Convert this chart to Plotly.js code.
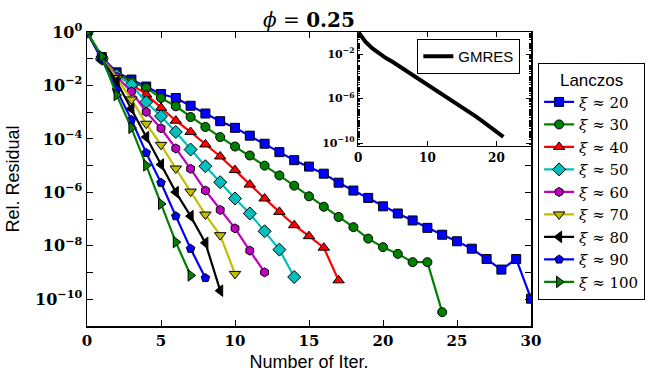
<!DOCTYPE html>
<html>
<head>
<meta charset="utf-8">
<script src="https://cdn.plot.ly/plotly-3.0.1.min.js"></script>
<style>html,body{margin:0;padding:0;background:#fff;}#chart{width:664px;height:382px;}</style>
</head>
<body>
<div id="chart"></div>
<script>
// ---------- data ----------
const iterations = [0,1,2,3,4,5,6,7,8,9,10,11,12,13,14,15,16,17,18,19,20,21,22,23,24,25,26,27,28,29,30];

const seriesLabels = ["<i>ξ</i> ≈ 20","<i>ξ</i> ≈ 30","<i>ξ</i> ≈ 40","<i>ξ</i> ≈ 50","<i>ξ</i> ≈ 60","<i>ξ</i> ≈ 70","<i>ξ</i> ≈ 80","<i>ξ</i> ≈ 90","<i>ξ</i> ≈ 100"];

const xi20 = [1, 1.15e-1, 3.1e-2, 1.66e-2, 9.1e-3, 4.8e-3, 3.4e-3, 1.74e-3, 8.9e-4, 4.6e-4, 2.6e-4, 1.32e-4, 6.6e-5, 3.2e-5, 1.6e-5, 9.2e-6, 5.0e-6, 2.3e-6, 1.17e-6, 6.2e-7, 3.0e-7, 1.62e-7, 8.9e-8, 4.7e-8, 2.6e-8, 1.48e-8, 7.8e-9, 3.2e-9, 1.29e-9, 3.2e-9, 1.05e-10];
const xi30 = [1, 1.07e-1, 2.8e-2, 1.41e-2, 8.1e-3, 3.4e-3, 1.66e-3, 6.6e-4, 2.8e-4, 1.17e-4, 5.2e-5, 2.4e-5, 1.0e-5, 4.3e-6, 1.78e-6, 7.1e-7, 2.9e-7, 1.2e-7, 5.0e-8, 1.86e-8, 8.9e-9, 5.0e-9, 2.45e-9, 2.45e-9, 3.3e-11];
const xi40 = [1, 1.07e-1, 2.5e-2, 1.12e-2, 4.6e-3, 1.45e-3, 4.8e-4, 1.82e-4, 6.2e-5, 2.2e-5, 6.8e-6, 1.95e-6, 5.9e-7, 1.86e-7, 5.9e-8, 2.3e-8, 8.5e-9, 5.1e-10];
const xi50 = [1, 1.0e-1, 2.4e-2, 1.05e-2, 2.4e-3, 7.1e-4, 1.82e-4, 4.0e-5, 9.5e-6, 2.4e-6, 5.9e-7, 1.62e-7, 3.5e-8, 7.2e-9, 6.8e-10];
const xi60 = [1, 1.0e-1, 2.1e-2, 6.0e-3, 1.02e-3, 2.5e-4, 4.4e-5, 7.6e-6, 1.17e-6, 2.2e-7, 4.5e-8, 6.6e-9, 1.02e-9];
const xi70 = [1, 1.0e-1, 1.9e-2, 3.0e-3, 3.7e-4, 6.0e-5, 7.8e-6, 1.07e-6, 1.48e-7, 2.5e-8, 8.9e-10];
const xi80 = [1, 1.0e-1, 1.41e-2, 1.35e-3, 1.17e-4, 1.1e-5, 1.02e-6, 1.29e-7, 1.29e-8, 2.1e-10];
const xi90 = [1, 9.5e-2, 6.9e-3, 5.2e-4, 3.0e-5, 2.3e-6, 1.29e-7, 7.8e-9, 6.3e-10];
const xi100 = [1, 1.23e-1, 4.4e-3, 2.6e-4, 1.02e-5, 3.7e-7, 1.38e-8, 7.8e-10];

const gmres = [1, 1.4e-1, 3.5e-2, 1.1e-2, 4.5e-3, 2.0e-3, 7.9e-4, 3.2e-4, 1.1e-4, 4.0e-5, 1.6e-5, 6.3e-6, 2.8e-6, 1.1e-6, 4.5e-7, 1.6e-7, 6.3e-8, 2.5e-8, 8.9e-9, 3.2e-9, 1.1e-9, 3.5e-10];

const xTicks = [0,5,10,15,20,25,30];
const yTickVals = [1,1e-2,1e-4,1e-6,1e-8,1e-10];
const yTickText = ["10<sup>0</sup>","10<sup>−2</sup>","10<sup>−4</sup>","10<sup>−6</sup>","10<sup>−8</sup>","10<sup>−10</sup>"];
const insetXTicks = [0,10,20];
const insetYTickVals = [1e-2,1e-6,1e-10];
const insetYTickText = ["10<sup>−2</sup>","10<sup>−6</sup>","10<sup>−10</sup>"];

// ---------- styles ----------
const allSeries = [xi20, xi30, xi40, xi50, xi60, xi70, xi80, xi90, xi100];
const colors = ["#0000ff","#008000","#ff0000","#00bfbf","#bf00bf","#bfbf00","#000000","#0000ff","#008000"];
const symbols = ["square","circle","triangle-up","diamond","hexagon","triangle-down","triangle-left","pentagon","triangle-right"];
const sizes = [9,9,10,10,9,10,10,9,10];

const traces = allSeries.map((vals, i) => ({
  type: "scatter", mode: "lines+markers",
  x: iterations.slice(0, vals.length), y: vals,
  name: seriesLabels[i],
  line: {color: colors[i], width: 2.2},
  marker: {symbol: symbols[i], size: sizes[i], color: colors[i], line: {color: "#000", width: 1}},
  xaxis: "x", yaxis: "y", legend: "legend"
}));

traces.push({
  type: "scatter", mode: "lines",
  x: iterations.slice(0, gmres.length), y: gmres,
  name: "GMRES",
  line: {color: "#000", width: 4},
  xaxis: "x2", yaxis: "y2", legend: "legend2"
});

const tickFont = {family: "DejaVu Serif", size: 15, weight: "bold", color: "#000"};
const yTickFont = {family: "DejaVu Serif", size: 16, weight: "bold", color: "#000"};
const smallTickFont = {family: "DejaVu Serif", size: 11, weight: "bold", color: "#000"};

const layout = {
  width: 664, height: 382,
  margin: {l: 87, r: 133, t: 32, b: 56},
  paper_bgcolor: "#fff", plot_bgcolor: "#fff",
  showlegend: true,
  title: {
    text: "<i>ϕ</i>&nbsp;=&nbsp;<b>0.25</b>",
    font: {family: "DejaVu Serif", size: 20, color: "#000"},
    x: 0.5, xref: "paper", xanchor: "center",
    y: 0.948, yref: "container", yanchor: "middle"
  },
  xaxis: {
    domain: [0, 1], range: [0, 30], tickmode: "array", tickvals: xTicks,
    ticks: "inside", ticklen: 6, tickwidth: 1, tickcolor: "#000",
    showline: true, linecolor: "#000", linewidth: 1.5, mirror: "ticks",
    showgrid: false, zeroline: false, tickfont: tickFont,
    title: {text: "Number of Iter.", font: {family: "Liberation Sans", size: 18, color: "#000"}, standoff: 7}
  },
  yaxis: {
    domain: [0, 1], type: "log", range: [-11, 0], tickmode: "array",
    tickvals: yTickVals, ticktext: yTickText,
    ticks: "inside", ticklen: 6, tickwidth: 1, tickcolor: "#000",
    minor: {ticks: "inside", ticklen: 6, dtick: 1, tickcolor: "#000", tickwidth: 1},
    showline: true, linecolor: "#000", linewidth: 1.5, mirror: "ticks",
    showgrid: false, zeroline: false, tickfont: yTickFont,
    title: {text: "Rel. Residual", font: {family: "Liberation Sans", size: 18, color: "#000"}, standoff: 11}
  },
  xaxis2: {
    domain: [0.611, 1], anchor: "y2", range: [0, 25], tickmode: "array", tickvals: insetXTicks,
    ticks: "inside", ticklen: 5, tickwidth: 1, tickcolor: "#000",
    showline: true, linecolor: "#000", linewidth: 1.5, mirror: "ticks",
    showgrid: false, zeroline: false, tickfont: {family: "DejaVu Serif", size: 12, weight: "bold", color: "#000"}
  },
  yaxis2: {
    domain: [0.613, 1], anchor: "x2", type: "log", range: [-10.25, 0], tickmode: "array",
    tickvals: insetYTickVals, ticktext: insetYTickText,
    ticks: "inside", ticklen: 5, tickwidth: 1, tickcolor: "#000",
    minor: {ticks: "inside", ticklen: 2, dtick: "D1", tickcolor: "#000"},
    showline: true, linecolor: "#000", linewidth: 1.5, mirror: "ticks",
    showgrid: false, zeroline: false, tickfont: smallTickFont
  },
  legend: {
    x: 1.016, y: 0.896, xanchor: "left", yanchor: "top",
    bordercolor: "#000", borderwidth: 1, bgcolor: "#fff",
    font: {family: "DejaVu Serif", size: 15, color: "#000"},
    title: {text: "Lanczos", side: "top center", font: {family: "Liberation Sans", size: 17, color: "#000"}},
    tracegroupgap: 0, itemwidth: 30
  },
  legend2: {
    x: 0.744, y: 0.976, xanchor: "left", yanchor: "top",
    bordercolor: "#000", borderwidth: 1, bgcolor: "#fff",
    font: {family: "Liberation Sans", size: 15, color: "#000"}
  }
};

Plotly.newPlot("chart", traces, layout, {staticPlot: true, displayModeBar: false});
</script>
</body>
</html>
